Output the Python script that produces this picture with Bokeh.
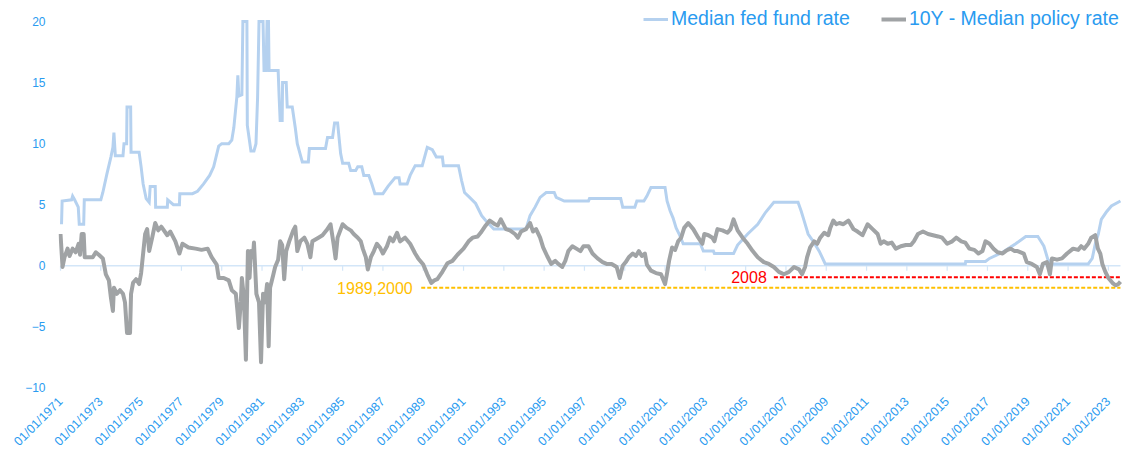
import math
from bokeh.plotting import figure
from bokeh.models import Range1d, FixedTicker, Legend, LegendItem
from bokeh.core.properties import value
from bokeh.embed import file_html
from bokeh.resources import INLINE

# ---------------- data ----------------
fed_x = [1971.05, 1971.08, 1971.55, 1971.6, 1971.7, 1971.88, 1971.93, 1972.15, 1972.18, 1973.0,
         1973.1, 1973.3, 1973.5, 1973.6, 1973.65, 1973.72, 1974.1, 1974.15, 1974.28, 1974.3,
         1974.48, 1974.5, 1974.9, 1975.0, 1975.1, 1975.25, 1975.4, 1975.45, 1975.7, 1975.72,
         1976.3, 1976.32, 1976.6, 1976.9, 1976.92, 1977.55, 1977.8, 1978.1, 1978.4, 1978.6,
         1978.85, 1979.0, 1979.35, 1979.5, 1979.6, 1979.75, 1979.8, 1979.85, 1980.0, 1980.05,
         1980.25, 1980.27, 1980.45, 1980.6, 1980.7, 1980.78, 1980.85, 1981.05, 1981.1, 1981.2,
         1981.25, 1981.32, 1981.35, 1981.8, 1981.85, 1981.9, 1982.0, 1982.02, 1982.2, 1982.25,
         1982.5, 1982.65, 1982.75, 1982.95, 1983.0, 1983.3, 1983.35, 1984.15, 1984.25, 1984.5,
         1984.6, 1984.75, 1984.9, 1985.0, 1985.3, 1985.4, 1985.65, 1985.75, 1985.95, 1986.05,
         1986.3, 1986.45, 1986.6, 1987.0, 1987.25, 1987.6, 1987.8, 1987.85, 1988.2, 1988.35,
         1988.6, 1988.95, 1989.2, 1989.45, 1989.65, 1989.95, 1990.0, 1990.75, 1990.9, 1991.05,
         1991.3, 1991.6, 1991.9, 1992.1, 1992.5, 1994.1, 1994.3, 1994.55, 1994.8, 1995.1,
         1995.5, 1995.6, 1996.0, 1997.2, 1997.25, 1998.8, 1998.9, 1999.5, 1999.6, 1999.95,
         2000.1, 2000.3, 2001.0, 2001.1, 2001.25, 2001.4, 2001.55, 2001.7, 2001.9, 2002.75,
         2002.9, 2003.4, 2003.45, 2004.4, 2004.6, 2005.1, 2005.6, 2006.0, 2006.4, 2007.6,
         2007.75, 2007.9, 2008.1, 2008.35, 2008.65, 2008.95, 2015.9, 2015.92, 2016.9, 2017.1,
         2017.75, 2018.4, 2018.9, 2019.5, 2019.65, 2019.8, 2020.0, 2020.2, 2022.0, 2022.2,
         2022.35, 2022.5, 2022.65, 2022.9, 2023.15, 2023.6]
fed_y = [3.4, 5.3, 5.4, 5.7, 5.4, 4.8, 3.4, 3.4, 5.4, 5.4,
         6.0, 7.5, 8.9, 9.7, 10.9, 9.0, 9.0, 10.0, 10.0, 13.0,
         13.0, 9.3, 9.3, 8.1, 6.7, 5.5, 5.2, 6.5, 6.5, 4.8,
         4.8, 5.4, 5.0, 5.0, 5.9, 5.9, 6.1, 6.7, 7.4, 8.1,
         9.8, 10.0, 10.0, 10.3, 11.3, 13.8, 15.6, 13.9, 14.0, 20.0,
         20.0, 11.5, 9.4, 9.4, 10.0, 13.8, 20.0, 20.0, 16.0, 16.0,
         20.0, 20.0, 16.0, 16.0, 13.8, 11.9, 11.9, 15.0, 15.0, 13.0,
         13.0, 11.3, 10.0, 8.8, 8.5, 8.5, 9.6, 9.6, 10.5, 10.5,
         11.7, 11.7, 9.2, 8.4, 8.4, 7.8, 7.8, 8.1, 8.1, 7.4,
         7.4, 6.7, 5.9, 5.9, 6.5, 7.2, 7.2, 6.7, 6.7, 7.4,
         8.2, 8.2, 9.7, 9.5, 8.9, 8.9, 8.2, 8.2, 7.0, 6.0,
         5.6, 5.1, 4.1, 3.7, 3.0, 3.0, 4.1, 4.8, 5.6, 6.0,
         6.0, 5.6, 5.3, 5.3, 5.5, 5.5, 4.8, 4.8, 5.3, 5.3,
         5.7, 6.4, 6.4, 5.3, 4.5, 3.9, 3.1, 2.6, 1.8, 1.8,
         1.2, 1.2, 1.0, 1.0, 1.7, 2.6, 3.4, 4.4, 5.2, 5.2,
         4.5, 3.7, 2.6, 2.0, 1.2, 0.15, 0.15, 0.35, 0.35, 0.6,
         1.1, 1.8, 2.4, 2.4, 2.0, 1.6, 0.5, 0.15, 0.15, 0.6,
         1.8, 2.6, 3.8, 4.4, 4.9, 5.3]

spread_x = [1971.0, 1971.1, 1971.2, 1971.35, 1971.45, 1971.6, 1971.75, 1971.9, 1971.97, 1972.05,
            1972.15, 1972.2, 1972.6, 1972.75, 1972.9, 1973.1, 1973.25, 1973.4, 1973.5, 1973.6,
            1973.65, 1973.8, 1973.95, 1974.1, 1974.2, 1974.3, 1974.45, 1974.5, 1974.6, 1974.75,
            1974.9, 1975.0, 1975.1, 1975.2, 1975.3, 1975.4, 1975.55, 1975.7, 1975.85, 1976.0,
            1976.3, 1976.45, 1976.7, 1976.9, 1977.05, 1977.35, 1977.7, 1978.0, 1978.3, 1978.5,
            1978.75, 1978.85, 1979.1, 1979.35, 1979.5, 1979.7, 1979.78, 1979.85, 1979.95, 1980.0,
            1980.1, 1980.2, 1980.3, 1980.38, 1980.45, 1980.55, 1980.6, 1980.72, 1980.85, 1980.95,
            1981.05, 1981.15, 1981.25, 1981.33, 1981.4, 1981.55, 1981.65, 1981.8, 1981.9, 1982.0,
            1982.1, 1982.2, 1982.35, 1982.55, 1982.65, 1982.75, 1982.9, 1983.1, 1983.25, 1983.4,
            1983.5, 1983.8, 1984.0, 1984.2, 1984.4, 1984.55, 1984.65, 1984.75, 1985.0, 1985.2,
            1985.4, 1985.55, 1985.75, 1985.9, 1986.0, 1986.15, 1986.25, 1986.4, 1986.55, 1986.7,
            1986.85, 1987.0, 1987.2, 1987.35, 1987.5, 1987.7, 1987.85, 1988.1, 1988.35, 1988.6,
            1988.75, 1989.0, 1989.2, 1989.4, 1989.55, 1989.7, 1989.95, 1990.2, 1990.45, 1990.7,
            1991.0, 1991.25, 1991.45, 1991.7, 1991.85, 1992.1, 1992.3, 1992.55, 1992.7, 1992.85,
            1993.1, 1993.3, 1993.55, 1993.7, 1993.85, 1994.1, 1994.3, 1994.45, 1994.6, 1994.8,
            1994.95, 1995.15, 1995.35, 1995.55, 1995.7, 1995.9, 1996.05, 1996.2, 1996.4, 1996.6,
            1996.8, 1996.95, 1997.2, 1997.4, 1997.65, 1997.9, 1998.1, 1998.35, 1998.6, 1998.75,
            1998.9, 1999.05, 1999.2, 1999.4, 1999.55, 1999.7, 1999.85, 2000.0, 2000.1, 2000.3,
            2000.55, 2000.8, 2001.0, 2001.1, 2001.2, 2001.35, 2001.5, 2001.65, 2001.8, 2001.95,
            2002.15, 2002.4, 2002.65, 2002.85, 2002.95, 2003.15, 2003.35, 2003.45, 2003.6, 2003.85,
            2004.1, 2004.25, 2004.4, 2004.6, 2004.85, 2005.1, 2005.35, 2005.6, 2005.9, 2006.15,
            2006.4, 2006.65, 2006.9, 2007.15, 2007.4, 2007.65, 2007.8, 2007.95, 2008.05, 2008.2,
            2008.4, 2008.55, 2008.7, 2008.9, 2009.1, 2009.2, 2009.35, 2009.5, 2009.65, 2009.85,
            2010.1, 2010.35, 2010.55, 2010.8, 2011.05, 2011.3, 2011.55, 2011.7, 2011.85, 2012.05,
            2012.25, 2012.45, 2012.7, 2012.95, 2013.2, 2013.35, 2013.55, 2013.8, 2014.05, 2014.3,
            2014.55, 2014.75, 2015.0, 2015.25, 2015.45, 2015.7, 2015.9, 2016.1, 2016.35, 2016.55,
            2016.75, 2016.9, 2017.1, 2017.3, 2017.5, 2017.75, 2017.9, 2018.0, 2018.15, 2018.35,
            2018.5, 2018.65, 2018.8, 2018.95, 2019.2, 2019.45, 2019.6, 2019.75, 2019.95, 2020.1,
            2020.2, 2020.45, 2020.7, 2020.95, 2021.25, 2021.5, 2021.65, 2021.8, 2022.0, 2022.15,
            2022.35, 2022.48, 2022.6, 2022.7, 2022.85, 2023.0, 2023.2, 2023.35, 2023.5, 2023.6]
spread_y = [2.6, -0.1, 0.7, 1.4, 0.8, 1.4, 1.1, 1.8, 0.9, 2.6,
            2.6, 0.7, 0.7, 1.1, 0.9, 0.6, -0.7, -1.2, -2.6, -3.7,
            -1.8, -2.3, -2.0, -2.3, -3.0, -5.5, -5.5, -2.3, -1.4, -1.1,
            -1.5, -0.6, 1.0, 2.6, 3.0, 1.2, 2.3, 3.5, 2.9, 3.2,
            2.5, 2.8, 2.0, 1.0, 1.8, 1.5, 1.4, 1.3, 1.4, 0.7,
            0.1, -1.0, -1.0, -1.2, -2.0, -2.3, -3.7, -5.1, -2.9, -1.0,
            -2.6, -7.7, 1.2, -1.0, 1.2, 0.7, 1.9, -2.3, -3.0, -7.9,
            -2.3, -3.0, -1.5, -6.6, -1.8, -0.8, -0.1, 0.5, 2.0, 1.7,
            -1.1, 1.2, 2.0, 2.9, 3.2, 1.2, 2.0, 2.3, 1.8, 0.7,
            2.0, 2.3, 2.5, 2.9, 3.4, 1.8, 0.6, 2.3, 3.4, 3.1,
            2.9, 2.6, 2.3, 2.0, 1.4, 0.7, -0.3, 0.7, 1.2, 1.8,
            1.5, 1.0, 1.6, 2.3, 2.0, 2.7, 2.0, 2.3, 1.8, 1.0,
            0.6, 0.1, -0.7, -1.4, -1.2, -1.1, -0.5, 0.2, 0.4, 0.9,
            1.4, 2.0, 2.3, 2.4, 2.7, 3.3, 3.7, 3.4, 3.3, 3.8,
            3.0, 2.9, 2.6, 2.3, 2.8, 3.0, 3.5, 2.8, 3.0, 2.3,
            1.5, 0.8, 0.15, 0.4, 0.15, -0.1, 0.4, 1.2, 1.6, 1.4,
            1.2, 1.6, 1.6, 1.0, 0.6, 0.3, 0.15, 0.15, -0.1, -1.0,
            0.0, 0.3, 0.7, 1.0, 0.8, 1.2, 0.8, 1.0, 0.1, -0.4,
            -0.6, -0.7, -1.5, -0.6, 0.4, 1.5, 1.3, 2.0, 2.3, 3.1,
            3.5, 3.0, 2.3, 1.8, 2.6, 2.5, 2.3, 2.0, 3.0, 2.9,
            2.7, 3.0, 3.8, 2.9, 2.3, 1.8, 1.2, 0.7, 0.3, 0.15,
            -0.1, -0.5, -0.7, -0.5, -0.1, -0.3, -0.7, -0.1, 0.7, 1.5,
            2.0, 1.8, 2.3, 2.7, 2.5, 3.1, 3.7, 3.4, 3.5, 3.4,
            3.7, 3.0, 2.8, 2.5, 3.4, 3.0, 2.6, 1.8, 2.0, 1.8,
            1.9, 1.4, 1.6, 1.7, 1.7, 2.0, 2.6, 2.8, 2.6, 2.5,
            2.4, 2.3, 1.8, 2.0, 2.3, 2.0, 1.9, 1.4, 1.3, 1.0,
            1.2, 2.0, 1.8, 1.4, 1.1, 1.0, 1.2, 1.3, 1.4, 1.2,
            1.2, 1.1, 1.0, 0.3, 0.15, -0.1, -0.7, 0.15, 0.3, -0.7,
            0.6, 0.5, 0.6, 1.0, 1.4, 1.3, 1.6, 1.4, 1.8, 2.3,
            2.5, 1.4, 1.0, 0.15, -0.5, -1.0, -1.4, -1.6, -1.5, -1.3]

series_names = ["Median fed fund rate", "10Y - Median policy rate"]

tick_years = list(range(1971, 2024, 2))
tick_labels = ["01/01/%d" % y for y in tick_years]
y_ticks = [-10, -5, 0, 5, 10, 15, 20]

axis_start, axis_end = 1971.0, 2023.6

# reference levels
low_1989_2000 = -1.8
low_1989_2000_x = [1988.9, 2023.6]
low_1989_2000_label = "1989,2000"
low_2008 = -0.95
low_2008_x = [2006.4, 2023.6]
low_2008_label = "2008"

# ---------------- styles ----------------
FED_COLOR = "#B5D1EF"
SPREAD_COLOR = "#A0A3A5"
TEXT_BLUE = "#2A9BF0"
ZERO_COLOR = "#D3E6F8"
ORANGE = "#FFC000"
RED = "#FF0000"
FONT = "Liberation Sans"

p = figure(width=1129, height=456, output_backend="svg", toolbar_location=None,
           x_range=Range1d(1970.9, 2023.85), y_range=Range1d(-10.3, 21.07),
           min_border_left=58, min_border_right=4, min_border_top=8, min_border_bottom=65)
p.outline_line_color = None
p.xgrid.grid_line_color = None
p.ygrid.grid_line_color = None
p.background_fill_color = "white"
p.border_fill_color = "white"

# zero line and its ticks
p.line([axis_start, axis_end], [0, 0], line_color=ZERO_COLOR, line_width=1.5)
p.segment(x0=tick_years, y0=[0] * len(tick_years), x1=tick_years, y1=[-0.4] * len(tick_years),
          line_color=ZERO_COLOR, line_width=1.2)

r_fed = p.line(fed_x, fed_y, line_color=FED_COLOR, line_width=3, line_join="miter")

# reference dashed levels
p.line(low_1989_2000_x, [low_1989_2000] * 2, line_color=ORANGE, line_width=2, line_dash="4 2")
p.line(low_2008_x, [low_2008] * 2, line_color=RED, line_width=2, line_dash="4 2")
p.text(x=[low_1989_2000_x[0] - 0.42], y=[low_1989_2000], text=[low_1989_2000_label],
       text_color=ORANGE, text_font=value(FONT), text_font_size="16px",
       text_align="right", text_baseline="middle")
p.text(x=[low_2008_x[0] - 0.35], y=[low_2008], text=[low_2008_label],
       text_color=RED, text_font=value(FONT), text_font_size="16px",
       text_align="right", text_baseline="middle")

r_spread = p.line(spread_x, spread_y, line_color=SPREAD_COLOR, line_width=4, line_join="round")

# axes
xa = p.xaxis[0]
xa.ticker = FixedTicker(ticks=tick_years)
xa.major_label_overrides = {y: l for y, l in zip(tick_years, tick_labels)}
xa.major_label_orientation = math.pi / 4
xa.axis_line_color = None
xa.major_tick_line_color = None
xa.minor_tick_line_color = None
xa.major_tick_out = 0
xa.major_tick_in = 0
xa.major_label_standoff = 8
xa.major_label_text_color = TEXT_BLUE
xa.major_label_text_font = FONT
xa.major_label_text_font_size = "12.5px"

ya = p.yaxis[0]
ya.ticker = FixedTicker(ticks=y_ticks)
ya.axis_line_color = None
ya.major_tick_line_color = None
ya.minor_tick_line_color = None
ya.major_tick_out = 0
ya.major_tick_in = 0
ya.major_label_standoff = 13
ya.major_label_text_color = TEXT_BLUE
ya.major_label_text_font = FONT
ya.major_label_text_font_size = "12px"

legend = Legend(items=[LegendItem(label=series_names[0], renderers=[r_fed]),
                       LegendItem(label=series_names[1], renderers=[r_spread])],
                orientation="horizontal", location=(585, 361),
                label_text_color=TEXT_BLUE, label_text_font=FONT, label_text_font_size="19.5px",
                glyph_width=25, label_standoff=3, spacing=31, padding=0, margin=0,
                border_line_color=None, background_fill_alpha=0)
p.add_layout(legend)

open("out.html", "w").write(file_html(p, INLINE))
